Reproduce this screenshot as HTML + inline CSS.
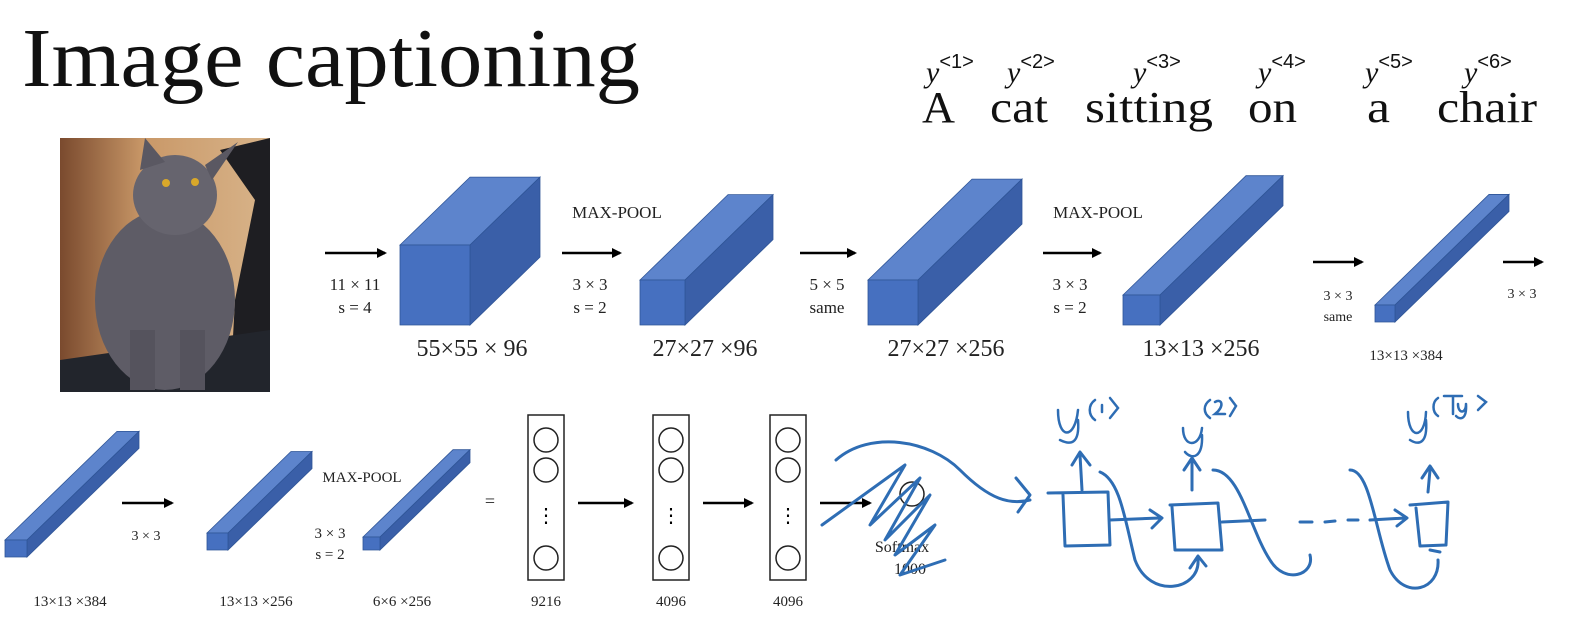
<!DOCTYPE html>
<html><head><meta charset="utf-8"><style>
html,body{margin:0;padding:0;background:#fff;}
svg{display:block;font-family:"Liberation Serif",serif;}
</style></head><body>
<svg id="s" width="1584" height="624" viewBox="0 0 1584 624">
<rect width="1584" height="624" fill="#fff"/>
<text x="22" y="86" font-size="84" fill="#111" textLength="618" lengthAdjust="spacingAndGlyphs">Image captioning</text>
<g font-size="44" fill="#111" lengthAdjust="spacingAndGlyphs">
<text x="922" y="122" textLength="33" lengthAdjust="spacingAndGlyphs">A</text>
<text x="990" y="122" textLength="58" lengthAdjust="spacingAndGlyphs">cat</text>
<text x="1085" y="122" textLength="128" lengthAdjust="spacingAndGlyphs">sitting</text>
<text x="1248" y="122" textLength="49" lengthAdjust="spacingAndGlyphs">on</text>
<text x="1367" y="122" textLength="23" lengthAdjust="spacingAndGlyphs">a</text>
<text x="1437" y="122" textLength="100" lengthAdjust="spacingAndGlyphs">chair</text>
</g>
<g font-size="30" fill="#111">
<text x="926" y="82"><tspan font-style="italic">y</tspan><tspan font-family="Liberation Sans,sans-serif" font-size="20" dy="-14">&lt;1&gt;</tspan></text>
<text x="1007" y="82"><tspan font-style="italic">y</tspan><tspan font-family="Liberation Sans,sans-serif" font-size="20" dy="-14">&lt;2&gt;</tspan></text>
<text x="1133" y="82"><tspan font-style="italic">y</tspan><tspan font-family="Liberation Sans,sans-serif" font-size="20" dy="-14">&lt;3&gt;</tspan></text>
<text x="1258" y="82"><tspan font-style="italic">y</tspan><tspan font-family="Liberation Sans,sans-serif" font-size="20" dy="-14">&lt;4&gt;</tspan></text>
<text x="1365" y="82"><tspan font-style="italic">y</tspan><tspan font-family="Liberation Sans,sans-serif" font-size="20" dy="-14">&lt;5&gt;</tspan></text>
<text x="1464" y="82"><tspan font-style="italic">y</tspan><tspan font-family="Liberation Sans,sans-serif" font-size="20" dy="-14">&lt;6&gt;</tspan></text>
</g>
<defs>
<linearGradient id="bg" x1="0" y1="0" x2="1" y2="0"><stop offset="0" stop-color="#7a4a2e"/><stop offset="0.4" stop-color="#c99868"/><stop offset="1" stop-color="#d8b48a"/></linearGradient>
<marker id="ah" markerWidth="10" markerHeight="10" refX="8" refY="5" orient="auto" markerUnits="userSpaceOnUse"><path d="M0,0 L10,5 L0,10 z" fill="#000"/></marker>
</defs>
<g>
<rect x="60" y="138" width="210" height="254" fill="url(#bg)"/>
<path d="M220,150 L270,138 L270,392 L230,392 L235,300 L255,200 Z" fill="#1e1e22"/>
<path d="M200,392 L270,340 L270,392 Z" fill="#15151a"/>
<path d="M60,360 L270,330 L270,392 L60,392 Z" fill="#22252c"/>
<ellipse cx="165" cy="300" rx="70" ry="90" fill="#5e5c66"/>
<ellipse cx="175" cy="195" rx="42" ry="40" fill="#66646e"/>
<path d="M140,170 L145,138 L165,162 Z M205,165 L238,142 L212,180 Z" fill="#5a5862"/>
<circle cx="166" cy="183" r="4" fill="#d9a82a"/><circle cx="195" cy="182" r="4" fill="#d9a82a"/>
<rect x="130" y="330" width="25" height="60" fill="#55535d"/><rect x="180" y="330" width="25" height="60" fill="#55535d"/>
</g>
<g id="boxes"></g>
<g id="arrows"></g>
<g font-size="17" fill="#222" text-anchor="middle">
<text x="355" y="290">11 × 11</text><text x="355" y="313">s = 4</text>
<text x="472" y="356" font-size="24">55×55 × 96</text>
<text x="617" y="218">MAX-POOL</text><text x="590" y="290">3 × 3</text><text x="590" y="313">s = 2</text>
<text x="705" y="356" font-size="24">27×27 ×96</text>
<text x="827" y="290">5 × 5</text><text x="827" y="313">same</text>
<text x="946" y="356" font-size="24">27×27 ×256</text>
<text x="1098" y="218">MAX-POOL</text><text x="1070" y="290">3 × 3</text><text x="1070" y="313">s = 2</text>
<text x="1201" y="356" font-size="24">13×13 ×256</text>
<text x="1338" y="300" font-size="14">3 × 3</text><text x="1338" y="321" font-size="14">same</text>
<text x="1406" y="360" font-size="15">13×13 ×384</text>
<text x="1522" y="298" font-size="14">3 × 3</text>
<text x="70" y="606" font-size="15">13×13 ×384</text>
<text x="146" y="540" font-size="14">3 × 3</text>
<text x="256" y="606" font-size="15">13×13 ×256</text>
<text x="362" y="482" font-size="15">MAX-POOL</text>
<text x="330" y="538" font-size="15">3 × 3</text><text x="330" y="559" font-size="15">s = 2</text>
<text x="402" y="606" font-size="15">6×6 ×256</text>
<text x="490" y="507" font-size="18">=</text>
<text x="546" y="606" font-size="15">9216</text><text x="671" y="606" font-size="15">4096</text><text x="788" y="606" font-size="15">4096</text>
<text x="902" y="552" font-size="16">Softmax</text><text x="910" y="574" font-size="16">1000</text>
</g>
<g id="fc"></g>
<circle cx="912" cy="494" r="12" fill="none" stroke="#222" stroke-width="1.5"/>
<g fill="none" stroke="#2e6db4" stroke-width="3" stroke-linecap="round" stroke-linejoin="round">
<path d="M836,460 C870,430 930,440 960,470 C990,500 1010,505 1030,500"/>
<path d="M1016,478 L1030,495 L1018,512"/>
<path d="M822,525 L905,465 L870,525 L920,478 L885,540 L930,495 L895,555 L935,525 L900,575 L945,560"/>
<path d="M1048,493 L1108,492 L1110,545 L1065,546 L1063,495"/>
<path d="M1082,490 L1080,455 M1072,465 L1080,452 L1090,465"/>
<path d="M1110,520 L1160,518 M1150,510 L1162,518 L1152,528"/>
<path d="M1100,472 C1120,480 1125,520 1135,560 C1150,600 1200,590 1198,560 M1190,568 L1198,556 L1206,566"/>
<path d="M1170,505 L1218,503 L1222,550 L1175,550 L1172,507"/>
<path d="M1192,490 L1192,460 M1184,470 L1192,458 L1200,470"/>
<path d="M1222,522 L1265,520 M1213,470 C1240,470 1250,530 1270,560 C1285,585 1315,575 1310,555"/>
<path d="M1300,522 L1312,522 M1325,522 L1335,521 M1348,520 L1358,520 M1370,520 L1405,518 M1395,510 L1407,518 L1397,526"/>
<path d="M1350,470 C1370,470 1375,530 1390,570 C1405,600 1440,590 1438,560"/>
<path d="M1410,505 L1448,502 L1446,545 L1420,546 L1416,508 M1430,550 L1440,552"/>
<path d="M1428,492 L1430,470 M1422,478 L1430,466 L1438,478"/>
</g>
<g fill="none" stroke="#2e6db4" stroke-width="2.5" stroke-linecap="round">
<path d="M1058,410 C1058,440 1075,440 1078,410 M1078,420 C1080,445 1070,445 1060,440"/>
<path d="M1095,400 C1088,405 1088,415 1095,420 M1102,405 L1102,412 M1110,398 L1118,408 L1110,418"/>
<path d="M1183,428 C1183,448 1200,448 1202,428 M1202,435 C1203,458 1192,460 1185,452"/>
<path d="M1210,400 C1203,405 1203,413 1210,418 M1215,402 C1222,398 1225,406 1215,414 L1225,414 M1230,398 L1236,406 L1230,416"/>
<path d="M1408,412 C1408,440 1425,440 1426,412 M1426,420 C1428,445 1418,445 1410,440"/>
<path d="M1438,398 C1432,402 1432,412 1438,416 M1444,396 L1462,396 M1453,396 L1453,414 M1458,404 C1458,414 1466,414 1466,404 M1466,404 C1467,420 1460,420 1456,416 M1478,396 L1486,402 L1478,410"/>
</g>
<script>
const layerNames=["conv1","pool1","conv2","pool2","conv3","conv4","conv5","pool3"];
const frontX=[400,640,868,1123,1375,5,207,363];
const frontW=[70,45,50,37,20,22,21,17];
const frontH=[80,45,45,30,17,17,17,13];
const baseY=[325,325,325,325,322,557,550,550];
const depth=[70,88,104,123,114,112,84,90];
const NS="http://www.w3.org/2000/svg";
const bg=document.getElementById('boxes');
function poly(pts,fill,name){const p=document.createElementNS(NS,'polygon');p.setAttribute('points',pts.map(a=>a.join(',')).join(' '));p.setAttribute('fill',fill);p.setAttribute('stroke','#2f5597');p.setAttribute('stroke-width','0.8');


bg.appendChild(p);}
layerNames.forEach((n,i)=>{const x=frontX[i],w=frontW[i],h=frontH[i],b=baseY[i],d=depth[i],dy=d*0.97;
poly([[x,b-h],[x+d,b-h-dy],[x+w+d,b-h-dy],[x+w,b-h]],'#5d84cc',n+'-top');
poly([[x+w,b-h],[x+w+d,b-h-dy],[x+w+d,b-dy],[x+w,b]],'#3a5fa8',n+'-side');
poly([[x,b-h],[x+w,b-h],[x+w,b],[x,b]],'#4670c0',n+'-front');});
const arrowStart=[[325,253],[562,253],[800,253],[1043,253],[1313,262],[1503,262],[122,503],[578,503],[703,503],[820,503]];
const arrowLen=[60,58,55,57,49,39,50,54,49,50];
const ag=document.getElementById('arrows');
arrowStart.forEach((s,i)=>{const l=document.createElementNS(NS,'line');l.setAttribute('x1',s[0]);l.setAttribute('y1',s[1]);l.setAttribute('x2',s[0]+arrowLen[i]);l.setAttribute('y2',s[1]);l.setAttribute('stroke','#000');l.setAttribute('stroke-width','2.5');l.setAttribute('marker-end','url(#ah)');


ag.appendChild(l);});
const fcUnits=[9216,4096,4096];
const fcX=[528,653,770];
const fg=document.getElementById('fc');
fcUnits.forEach((u,i)=>{const x=fcX[i];const r=document.createElementNS(NS,'rect');r.setAttribute('x',x);r.setAttribute('y',415);r.setAttribute('width',36);r.setAttribute('height',165);r.setAttribute('fill','none');r.setAttribute('stroke','#222');r.setAttribute('stroke-width','1.5');


fg.appendChild(r);
[440,470,558].forEach(cy=>{const c=document.createElementNS(NS,'circle');c.setAttribute('cx',x+18);c.setAttribute('cy',cy);c.setAttribute('r',12);c.setAttribute('fill','none');c.setAttribute('stroke','#222');c.setAttribute('stroke-width','1.5');


fg.appendChild(c);});
const t=document.createElementNS(NS,'text');t.setAttribute('x',x+18);t.setAttribute('y',522);t.setAttribute('text-anchor','middle');t.setAttribute('font-size','20');t.textContent='⋮';


fg.appendChild(t);});
</script>
</svg>
</body></html>
